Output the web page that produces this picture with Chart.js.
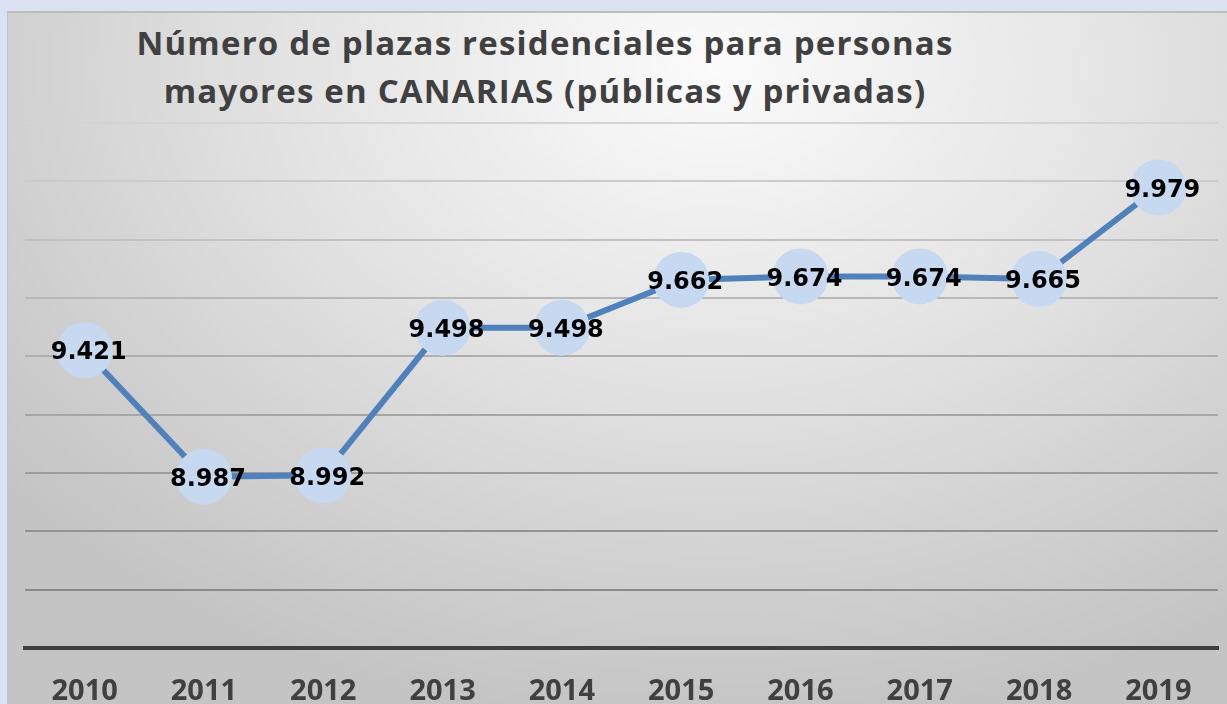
<!DOCTYPE html>
<html lang="es">
<head>
<meta charset="utf-8">
<title>Plazas residenciales Canarias</title>
<script src="https://cdn.jsdelivr.net/npm/chart.js@4.4.0/dist/chart.umd.min.js"></script>
<style>
    html, body { margin: 0; padding: 0; overflow: hidden; }
    body { width: 1227px; height: 704px; background: #dbe2f4; position: relative; }
    #frame {
        position: absolute; left: 7px; top: 11px; width: 1220px; height: 693px;
        box-sizing: border-box;
        border-top: 2px solid #bdbdbd; border-left: 1px solid #c4c4c4;
        background: radial-gradient(ellipse 75% 95% at 58% 8%, #fbfbfb 0%, #e4e4e4 45%, #d2d2d2 75%, #c4c4c4 100%);
    }
    #title {
        position: absolute; left: 95px; top: 19px; width: 900px;
        text-align: center; font: bold 33px/48px "Open Sans", sans-serif; letter-spacing: 1.2px; color: #404040;
    }
    #plazasChart { position: absolute; left: 0; top: 0; }
</style>
</head>
<body>
<div id="frame"></div>
<div id="title">Número de plazas residenciales para personas<br>mayores en CANARIAS (públicas y privadas)</div>
<canvas id="plazasChart" width="1227" height="704"></canvas>

<script>
// ------------------------------------------------------------
//  Datos: plazas residenciales (públicas y privadas), Canarias
// ------------------------------------------------------------
const years = ['2010', '2011', '2012', '2013', '2014', '2015', '2016', '2017', '2018', '2019'];
const plazas = [9421, 8987, 8992, 9498, 9498, 9662, 9674, 9674, 9665, 9979];

const yMin = 8400;
const yMax = 10200;
const yStep = 200;

// 9421 -> "9.421"
function fmtMiles(v) {
    return String(v).replace(/\B(?=(\d{3})+(?!\d))/g, '.');
}

// draw the value labels on top of each point
const valueLabels = {
    id: 'valueLabels',
    afterDatasetsDraw(chart) {
        const ctx = chart.ctx;
        const meta = chart.getDatasetMeta(0);
        ctx.save();
        ctx.font = 'bold 24px "DejaVu Sans", sans-serif';
        ctx.fillStyle = '#000000';
        ctx.textAlign = 'center';
        ctx.textBaseline = 'middle';
        meta.data.forEach((pt, i) => {
            ctx.fillText(fmtMiles(plazas[i]), pt.x + 4, pt.y + 3);
        });
        ctx.restore();
    }
};

// grid lines get darker toward the bottom of the chart
function gridColor(c) {
    const v = c.tick ? c.tick.value : yMin;
    const t = Math.min(1, Math.max(0, (v - 8600) / (yMax - 8600)));
    const g = Math.round(138 + t * (212 - 138));
    return `rgb(${g},${g},${g})`;
}

const ctx = document.getElementById('plazasChart').getContext('2d');
new Chart(ctx, {
    type: 'line',
    data: {
        labels: years,
        datasets: [{
            label: 'Plazas',
            data: plazas,
            borderColor: '#4f81bd',
            borderWidth: 6,
            backgroundColor: '#c6d9f1',
            pointBackgroundColor: '#c6d9f1',
            pointBorderWidth: 0,
            pointRadius: 28,
            pointHoverRadius: 28,
            tension: 0,
            fill: false,
        }]
    },
    options: {
        responsive: false,
        animation: false,
        layout: { autoPadding: false, padding: { left: 25, right: 9, top: 123, bottom: 0 } },
        plugins: {
            legend: { display: false },
            tooltip: { enabled: false },
            title: { display: false },
        },
        scales: {
            x: {
                offset: true,
                grid: { display: false, drawTicks: false },
                border: { display: true, color: '#404040', width: 4 },
                ticks: {
                    padding: 26,
                    color: '#404040',
                    font: { family: 'Open Sans', weight: 'bold', size: 29 },
                    maxRotation: 0,
                },
                afterFit: (s) => { s.height = 56; },
            },
            y: {
                min: yMin,
                max: yMax,
                ticks: { display: false, stepSize: yStep },
                grid: { color: gridColor, lineWidth: 2, drawTicks: false },
                border: { display: false },
                afterFit: (s) => { s.width = 0; },
            }
        }
    },
    plugins: [valueLabels]
});
</script>
</body>
</html>
